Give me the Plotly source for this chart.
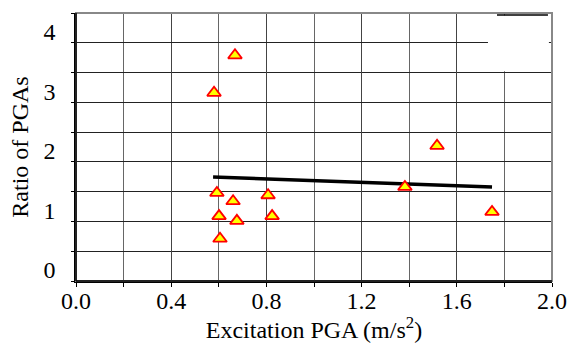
import plotly.graph_objects as go

# Data
pga = [0.668, 0.580, 0.592, 0.660, 0.807, 0.601, 0.676, 0.824, 0.605, 1.517, 1.382, 1.748]
ratio = [3.79, 3.16, 1.48, 1.34, 1.44, 1.09, 1.01, 1.09, 0.71, 2.27, 1.58, 1.16]

fit_x = [0.576, 1.748]
fit_y = [1.746, 1.578]

x_tickvals = [0.0, 0.4, 0.8, 1.2, 1.6, 2.0]
x_ticktext = ["0.0", "0.4", "0.8", "1.2", "1.6", "2.0"]
y_tickvals = [0, 1, 2, 3, 4]
y_ticktext = ["0", "1", "2", "3", "4"]

FONT = "Times New Roman, Liberation Serif, DejaVu Serif, serif"
FS = 24

fig = go.Figure()
fig.add_trace(go.Scatter(x=fit_x, y=fit_y, mode="lines",
                         line=dict(color="black", width=3.5),
                         showlegend=False, hoverinfo="skip"))
fig.add_trace(go.Scatter(x=pga, y=ratio, mode="markers",
                         marker=dict(symbol="triangle-up", size=12, color="#ffff00",
                                     line=dict(color="#ff0000", width=1.8)),
                         showlegend=False))

fig.update_layout(
    template="none",
    width=568, height=343,
    margin=dict(l=76, r=16, t=13, b=62, pad=0),
    paper_bgcolor="white", plot_bgcolor="white",
    font=dict(family=FONT, size=FS, color="black"),
    xaxis=dict(range=[0, 2.0], tickvals=x_tickvals, ticktext=x_ticktext,
               tickfont=dict(family=FONT, size=FS, color="black"),
               showgrid=True, gridcolor="#444", gridwidth=1,
               minor=dict(dtick=0.2, showgrid=True, gridcolor="#666", gridwidth=1,
                          ticks="outside", ticklen=4, tickcolor="black"),
               ticks="outside", ticklen=4, tickcolor="black",
               showline=True, linecolor="black", linewidth=1.5,
               zeroline=False, ticklabelstandoff=-7,
               title=dict(text="Excitation PGA (m/s<sup>2</sup>)", standoff=2,
                          font=dict(family=FONT, size=FS, color="black"))),
    yaxis=dict(range=[0, 4.5], tickvals=y_tickvals, ticktext=y_ticktext,
               tickfont=dict(family=FONT, size=FS, color="black"),
               showgrid=True, gridcolor="#222", gridwidth=1,
               minor=dict(dtick=0.5, showgrid=True, gridcolor="#222", gridwidth=1,
                          ticks="outside", ticklen=3, tickcolor="black"),
               ticks="outside", ticklen=3, tickcolor="black",
               showline=True, linecolor="black", linewidth=1.5,
               zeroline=False, ticklabelshift=-11, ticklabelstandoff=11,
               title=dict(text="Ratio of PGAs", standoff=8,
                          font=dict(family=FONT, size=FS, color="black"))),
)

# plot frame (gray top/right border)
fig.add_shape(type="rect", xref="paper", yref="paper", x0=0, y0=0, x1=1, y1=1,
              line=dict(color="#888", width=2), layer="above")
# white patch in the top-right corner (removed legend box)
fig.add_shape(type="rect", xref="x", yref="y", x0=1.731, x1=1.987, y0=3.52, y1=4.46,
              line=dict(width=0), fillcolor="white", layer="above")
fig.add_shape(type="line", xref="x", yref="y", x0=1.769, x1=1.983, y0=4.465, y1=4.465,
              line=dict(color="black", width=1.5), layer="above")
# redraw left/bottom axes on top
fig.add_shape(type="line", xref="paper", yref="paper", x0=0, x1=0, y0=0, y1=1,
              line=dict(color="black", width=1.5), layer="above")
fig.add_shape(type="line", xref="paper", yref="paper", x0=0, x1=1, y0=0, y1=0,
              line=dict(color="black", width=1.5), layer="above")

fig.write_html("out.html")
